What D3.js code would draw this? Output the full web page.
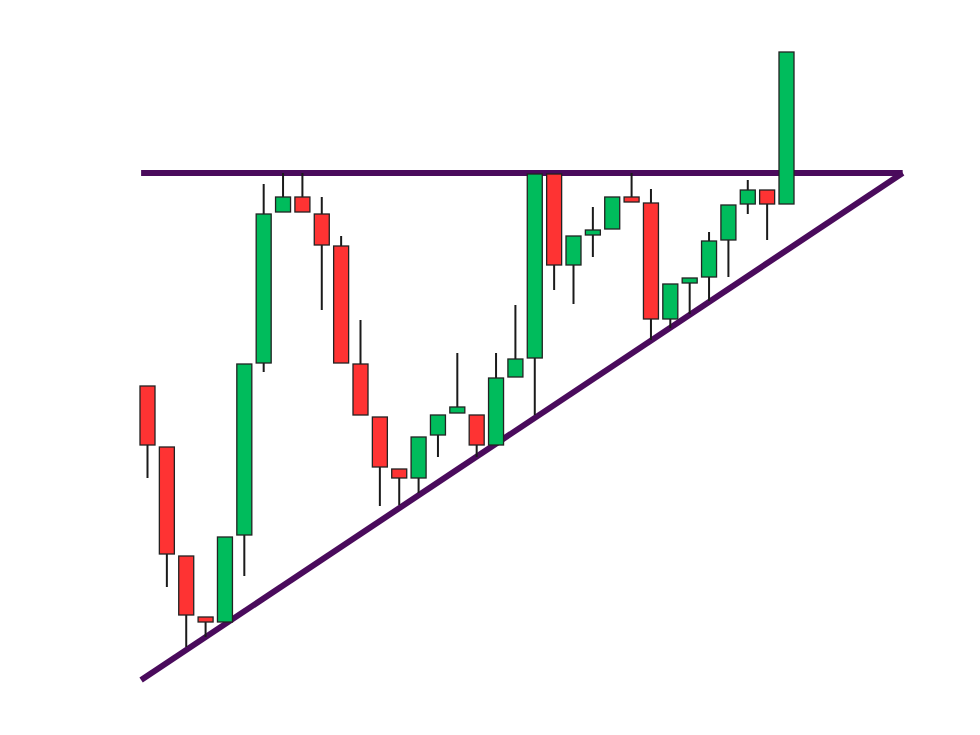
<!DOCTYPE html>
<html>
<head>
<meta charset="utf-8">
<script src="https://cdn.jsdelivr.net/npm/d3@7"></script>
<style>
  html, body { margin: 0; padding: 0; background: #ffffff; }
  svg { display: block; }
</style>
</head>
<body>
<svg id="chart" width="980" height="735"></svg>
<script>
// Candle data (index, open, high, low, close)
const opens  = [62.8, 50.6, 28.8, 16.6, 15.6, 33.0, 67.4, 97.6, 100.6, 97.2, 90.8, 67.2, 56.6, 46.2, 44.4, 53.0, 57.4, 57.0, 51.0, 64.6, 68.4, 105.2, 87.0, 93.0, 94.2, 100.6, 99.4, 76.2, 83.4, 84.6, 92.0, 99.2, 102.0, 99.2];
const highs  = [62.8, 50.6, 28.8, 16.6, 32.6, 67.2, 103.2, 105.4, 105.4, 100.6, 92.8, 76.0, 56.6, 46.2, 52.6, 57.0, 69.4, 57.0, 69.4, 79.0, 105.2, 105.2, 92.8, 98.6, 100.6, 105.4, 102.2, 83.2, 84.4, 93.6, 99.0, 104.0, 102.0, 129.6];
const lows   = [44.4, 22.6, 10.6, 12.6, 15.6, 24.8, 65.6, 97.6, 97.6, 78.0, 67.4, 57.0, 38.8, 39.0, 41.4, 48.6, 57.4, 48.6, 51.0, 64.6, 57.0, 82.0, 79.2, 88.6, 94.2, 99.6, 72.0, 74.4, 77.2, 79.8, 84.6, 97.2, 92.0, 99.2];
const closes = [51.0, 29.2, 17.0, 15.6, 32.6, 67.2, 97.2, 100.6, 97.6, 91.0, 67.4, 57.0, 46.6, 44.4, 52.6, 57.0, 58.6, 51.0, 64.4, 68.2, 105.2, 87.0, 92.8, 94.0, 100.6, 99.6, 76.2, 83.2, 84.4, 91.8, 99.0, 102.0, 99.2, 129.6];

// Pattern lines: resistance level and rising support trendline
const resistance = { x0: -0.33, x1: 39.0, level: 105.4 };
const support = { x0: -0.33, y0: 4.0, x1: 39.0, y1: 105.4 };

const svg = d3.select("#chart");

const x = d3.scaleLinear().domain([0, 33]).range([147.5, 786.5]);
const y = d3.scaleLinear().domain([0, 140]).range([700, 0]);

const lineColor = "#4a0b5c";
const upColor = "#00bc5c";
const downColor = "#fe3333";
const bodyW = 15;

// lines (drawn behind candles)
svg.append("line")
  .attr("x1", x(resistance.x0)).attr("x2", x(resistance.x1))
  .attr("y1", y(resistance.level)).attr("y2", y(resistance.level))
  .attr("stroke", lineColor).attr("stroke-width", 6);

svg.append("line")
  .attr("x1", x(support.x0)).attr("y1", y(support.y0))
  .attr("x2", x(support.x1)).attr("y2", y(support.y1))
  .attr("stroke", lineColor).attr("stroke-width", 6);

const candles = opens.map((o, i) => ({ i, o, h: highs[i], l: lows[i], c: closes[i] }));

const g = svg.append("g");
const cg = g.selectAll("g.candle").data(candles).join("g").attr("class", "candle");

cg.append("line")
  .attr("x1", d => x(d.i)).attr("x2", d => x(d.i))
  .attr("y1", d => y(d.h)).attr("y2", d => y(d.l))
  .attr("stroke", "#1a1a1a").attr("stroke-width", 2);

cg.append("rect")
  .attr("x", d => x(d.i) - bodyW / 2)
  .attr("width", bodyW)
  .attr("y", d => y(Math.max(d.o, d.c)))
  .attr("height", d => Math.max(1, Math.abs(y(d.o) - y(d.c))))
  .attr("fill", d => d.c >= d.o ? upColor : downColor)
  .attr("stroke", "#222").attr("stroke-width", 1.3);
</script>
</body>
</html>
